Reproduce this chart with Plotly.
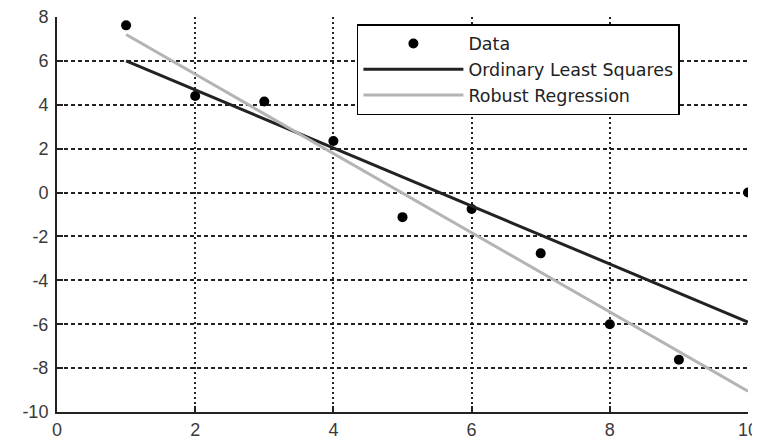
import plotly.graph_objects as go

# Data
x_data = [1, 2, 3, 4, 5, 6, 7, 8, 9, 10]
y_data = [7.62, 4.4, 4.15, 2.35, -1.12, -0.75, -2.77, -6.0, -7.62, 0.0]

ols_x = [1, 10]
ols_y = [6.0, -5.9]

robust_x = [1, 10]
robust_y = [7.2, -9.05]

x_ticks = [0, 2, 4, 6, 8, 10]
x_tick_labels = ["0", "2", "4", "6", "8", "10"]
y_ticks = [-10, -8, -6, -4, -2, 0, 2, 4, 6, 8]
y_tick_labels = ["-10", "-8", "-6", "-4", "-2", "0", "2", "4", "6", "8"]

fig = go.Figure()
fig.add_trace(go.Scatter(x=x_data, y=y_data, mode="markers", name="Data",
                         marker=dict(color="black", size=10)))
fig.add_trace(go.Scatter(x=ols_x, y=ols_y, mode="lines", name="Ordinary Least Squares",
                         line=dict(color="#222222", width=3)))
fig.add_trace(go.Scatter(x=robust_x, y=robust_y, mode="lines", name="Robust Regression",
                         line=dict(color="#b4b4b4", width=3)))

axis_font = dict(family="Liberation Sans, Arial", size=18, color="#3a3a3a")

# page body has an 8px margin, so the figure is sized to the visible window
fig.update_layout(
    width=752, height=432,
    margin=dict(l=49, r=12, t=9, b=28),
    paper_bgcolor="white", plot_bgcolor="white",
    showlegend=True,
    legend=dict(x=0.434, y=0.982, xanchor="left", yanchor="top",
                bgcolor="white", bordercolor="black", borderwidth=1.5,
                font=dict(family="DejaVu Sans", size=17.5, color="#222222"),
                tracegroupgap=0, itemwidth=100),
    xaxis=dict(range=[0, 10], tickvals=x_ticks, ticktext=x_tick_labels,
               showgrid=True, automargin=False, ticklabeloverflow="allow",
               gridcolor="#222222", griddash="2px,3px", gridwidth=1.5,
               showline=True, linecolor="#222222", linewidth=2, mirror=False,
               ticks="inside", ticklen=6, tickcolor="#222222", tickwidth=2,
               zeroline=False, tickfont=axis_font),
    yaxis=dict(range=[-10, 8], tickvals=y_ticks, ticktext=y_tick_labels,
               showgrid=True, automargin=False, ticklabelstandoff=3,
               ticklabeloverflow="allow",
               gridcolor="#222222", griddash="4px,3px", gridwidth=1.5,
               showline=True, linecolor="#222222", linewidth=2, mirror=False,
               ticks="inside", ticklen=6, tickcolor="#222222", tickwidth=2,
               zeroline=False, tickfont=axis_font),
)

fig.write_html("out.html")
